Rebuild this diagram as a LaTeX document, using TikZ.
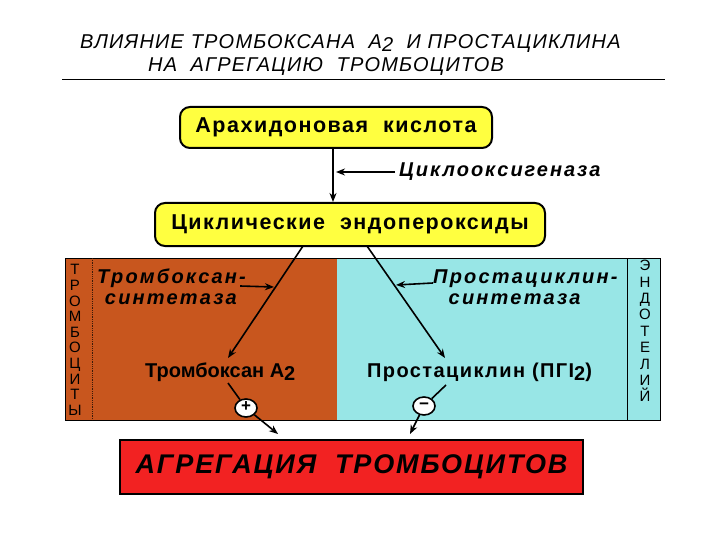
\documentclass[tikz,border=0pt]{standalone}
\usepackage{fontspec}
\setmainfont{Liberation Sans}
\usetikzlibrary{arrows.meta,shapes.geometric}
\definecolor{yel}{HTML}{FFFF40}
\definecolor{brn}{HTML}{C8561E}
\definecolor{cyn}{HTML}{98E6E6}
\definecolor{redb}{HTML}{F22222}
\newcommand{\ls}[1]{\addfontfeatures{LetterSpace=#1}}
\tikzset{
  ybox/.style={draw=black, line width=2pt, fill=yel, rounded corners=10pt, inner sep=0pt,
    font=\fontsize{21.5}{21.5}\selectfont\bfseries\ls{7}},
  arr/.style={-{Stealth[length=9pt,width=7pt]}, line width=1.6pt},
  enz/.style={font=\fontsize{20}{21}\selectfont\bfseries\itshape\ls{11}, inner sep=0pt, align=left},
  prod/.style={font=\fontsize{20}{20}\selectfont\bfseries, inner sep=0pt},
  sign/.style={draw=black, line width=1.6pt, fill=white, ellipse, minimum width=22pt, minimum height=18pt, inner sep=0pt,
    text height=0.62em, text depth=0pt, font=\fontsize{17}{17}\selectfont\bfseries},
  vtext/.style={font=\fontsize{15}{15.6}\selectfont, align=center, inner sep=0pt},
  ttl/.style={anchor=west, inner sep=0pt, font=\fontsize{20}{20}\selectfont\itshape\ls{6}},
}
\begin{document}
\begin{tikzpicture}[x=1pt,y=-1pt]
\useasboundingbox (0,0) rectangle (720,540);
\fill[white] (0,0) rectangle (720,540);
% title
\node[ttl] (t1) at (80,44) {ВЛИЯНИЕ ТРОМБОКСАНА\ \ А\raisebox{-3pt}{2}\ \ И ПРОСТАЦИКЛИНА};
\node[ttl] (t2) at (148,67) {НА\ \ АГРЕГАЦИЮ\ \ ТРОМБОЦИТОВ};
\draw[line width=1pt] (62,80) -- (665,80);
% boxes
\node[ybox, minimum width=312pt, minimum height=41pt] (ara) at (336,127.5) {Арахидоновая\ \ кислота};
\node[ybox, minimum width=390pt, minimum height=43pt] (cyc) at (350,224.5) {Циклические\ \ эндопероксиды};
\draw[arr] (ara.south -| 333,0) -- (cyc.north -| 333,0);
\node[enz, anchor=west, font=\fontsize{20}{21}\selectfont\bfseries\itshape\ls{10}] (cox) at (399,172) {Циклооксигеназа};
\coordinate (coxp) at (336,172);
\draw[arr] (cox.west) ++(-4,0) -- (coxp);
% band
\fill[brn] (65,258) rectangle (337,420);
\fill[cyn] (337,258) rectangle (660,420);
\draw[line width=0.8pt] (65,258) rectangle (660,420);
\draw[line width=0.8pt, densely dotted, black!70!brn] (92,258) -- (92,420);
\draw[line width=1pt] (627,258) -- (627,420);
\node[vtext] (trc) at (75,340) {Т\\Р\\О\\М\\Б\\О\\Ц\\И\\Т\\Ы};
\node[vtext, font=\fontsize{15}{16.4}\selectfont] (end) at (645,331) {Э\\Н\\Д\\О\\Т\\Е\\Л\\И\\Й};
% products
\node[prod, anchor=west] (txa) at (145,372) {Тромбоксан А\raisebox{-3pt}{2}};
\node[prod, anchor=west, font=\fontsize{20}{20}\selectfont\bfseries\ls{7}] (pgi) at (367,372) {Простациклин (ПГІ\raisebox{-3pt}{2})};
\coordinate (s1) at (303,246);
\coordinate (e1) at (228,358);
\coordinate (s2) at (367,246);
\coordinate (e2) at (445,358);
\draw[arr] (s1) -- (e1);
\draw[arr] (s2) -- (e2);
\node[enz, anchor=west] (txs) at (97,287) {Тромбоксан-\\\ синтетаза};
\node[enz, anchor=west] (pcs) at (433,287) {Простациклин-\\\ \ синтетаза};
\coordinate (txsp) at (274,287);
\coordinate (pcsp) at (396,285);
\draw[arr] (txs.east |- 0,286) ++(-6,0) -- (txsp);
\draw[arr] (pcs.west |- 0,283) -- (pcsp);
% signs
\node[sign] (plus) at (246,408) {+};
\node[sign] (minus) at (424,406) {−};
% aggregation box
\node[draw=black, line width=2pt, fill=redb, minimum width=463pt, minimum height=54pt, inner sep=0pt,
  font=\fontsize{27}{27}\selectfont\bfseries\itshape\ls{7}] (agg) at (351.5,467) {АГРЕГАЦИЯ\ \ ТРОМБОЦИТОВ};
\coordinate (txb) at (228,383);
\coordinate (pgb) at (446,385);
\coordinate (g1) at (278,434);
\coordinate (g2) at (410,434);
\draw[line width=1.6pt] (txb) -- (plus);
\draw[arr] (plus) -- (g1);
\draw[line width=1.6pt] (pgb) -- (minus);
\draw[arr] (minus) -- (g2);
\end{tikzpicture}
\end{document}
